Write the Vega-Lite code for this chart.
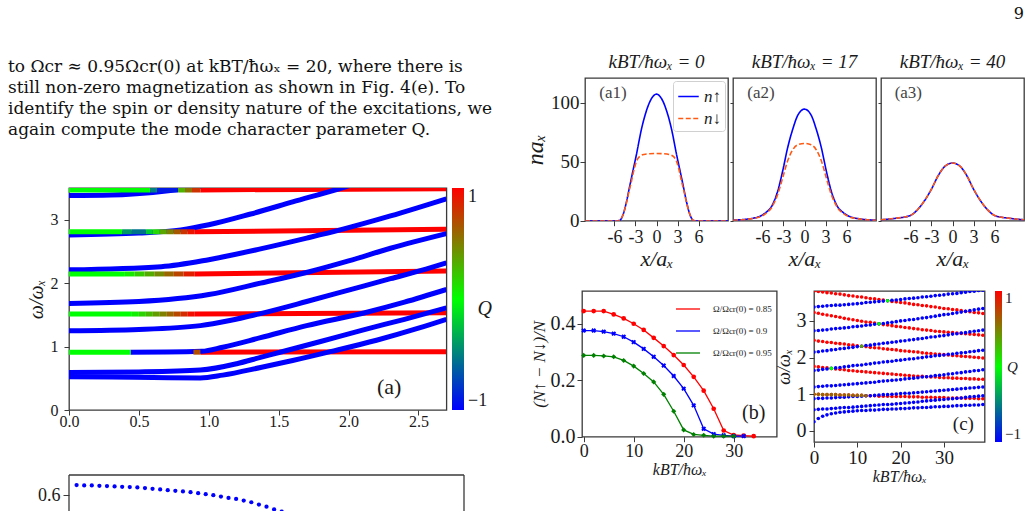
{
"$schema":"https://vega.github.io/schema/vega-lite/v6.json",
"background":"white",
"padding":0,
"config":{
"view":{"stroke":"#3a3a3a","strokeWidth":1.3},
"font":"Liberation Serif",
"axis":{"domain":false,"grid":false,"tickColor":"#3a3a3a","tickSize":5,"tickWidth":1,"labelColor":"#1a1a1a","titleColor":"#1a1a1a","labelFont":"Liberation Serif","titleFont":"Liberation Serif","titleFontWeight":"normal","labelPadding":3,"labelOverlap":false,"labelFlush":false},
"legend":{"labelFont":"Liberation Serif","titleFont":"Liberation Serif","titleFontWeight":"normal","labelColor":"#1a1a1a","titleColor":"#1a1a1a"},
"title":{"font":"Liberation Serif","fontWeight":"normal","color":"#1a1a1a"},
"text":{"font":"Liberation Serif","color":"#1a1a1a"}
},
"datasets":{
"lv":[
{"x":0,"x2":0.44,"y":0.912,"y2":0.912,"q":0},
{"x":0.89,"x2":0.94,"y":0.912,"y2":0.912,"q":0.7},
{"x":0.94,"x2":2.7,"y":0.912,"y2":0.92,"q":1},
{"x":0,"x2":0.45,"y":1.513,"y2":1.513,"q":0},
{"x":0.45,"x2":0.5,"y":1.513,"y2":1.513,"q":0.06},
{"x":0.5,"x2":0.55,"y":1.513,"y2":1.513,"q":0.17},
{"x":0.55,"x2":0.6,"y":1.513,"y2":1.513,"q":0.28},
{"x":0.6,"x2":0.65,"y":1.513,"y2":1.513,"q":0.39},
{"x":0.65,"x2":0.7,"y":1.513,"y2":1.513,"q":0.5},
{"x":0.7,"x2":0.75,"y":1.513,"y2":1.513,"q":0.61},
{"x":0.75,"x2":0.8,"y":1.513,"y2":1.513,"q":0.72},
{"x":0.8,"x2":0.85,"y":1.513,"y2":1.513,"q":0.83},
{"x":0.85,"x2":0.9,"y":1.513,"y2":1.513,"q":0.94},
{"x":0.9,"x2":2.7,"y":1.513,"y2":1.535,"q":1},
{"x":0,"x2":0.4,"y":2.145,"y2":2.145,"q":0},
{"x":0.4,"x2":0.47,"y":2.145,"y2":2.145,"q":0.08},
{"x":0.47,"x2":0.54,"y":2.145,"y2":2.145,"q":0.2},
{"x":0.54,"x2":0.61,"y":2.145,"y2":2.145,"q":0.33},
{"x":0.61,"x2":0.68,"y":2.145,"y2":2.145,"q":0.46},
{"x":0.68,"x2":0.75,"y":2.145,"y2":2.145,"q":0.6},
{"x":0.75,"x2":0.82,"y":2.145,"y2":2.145,"q":0.73},
{"x":0.82,"x2":0.9,"y":2.145,"y2":2.145,"q":0.88},
{"x":0.9,"x2":2.7,"y":2.145,"y2":2.19,"q":1},
{"x":0,"x2":0.38,"y":2.81,"y2":2.81,"q":0},
{"x":0.38,"x2":0.45,"y":2.81,"y2":2.81,"q":-0.4},
{"x":0.45,"x2":0.55,"y":2.81,"y2":2.81,"q":-0.55},
{"x":0.55,"x2":0.6,"y":2.81,"y2":2.81,"q":-0.2},
{"x":0.6,"x2":0.65,"y":2.81,"y2":2.81,"q":0.15},
{"x":0.65,"x2":0.7,"y":2.81,"y2":2.81,"q":0.35},
{"x":0.7,"x2":0.75,"y":2.81,"y2":2.81,"q":0.5},
{"x":0.75,"x2":0.8,"y":2.81,"y2":2.81,"q":0.65},
{"x":0.8,"x2":0.85,"y":2.81,"y2":2.81,"q":0.8},
{"x":0.85,"x2":0.9,"y":2.81,"y2":2.81,"q":0.92},
{"x":0.9,"x2":2.7,"y":2.81,"y2":2.85,"q":1},
{"x":0,"x2":0.58,"y":3.47,"y2":3.47,"q":0},
{"x":0.58,"x2":0.63,"y":3.47,"y2":3.47,"q":-0.5},
{"x":0.63,"x2":0.78,"y":3.47,"y2":3.47,"q":-0.9},
{"x":0.78,"x2":0.83,"y":3.47,"y2":3.47,"q":0.3},
{"x":0.83,"x2":0.88,"y":3.47,"y2":3.47,"q":0.55},
{"x":0.88,"x2":0.94,"y":3.47,"y2":3.47,"q":0.8},
{"x":0.94,"x2":2.7,"y":3.47,"y2":3.49,"q":1}
],
"cv":[
{"c":"A","x":0,"y":0.525},{"c":"A","x":0.3,"y":0.52},{"c":"A","x":0.6,"y":0.512},{"c":"A","x":0.94,"y":0.505},{"c":"A","x":1.1,"y":0.55},{"c":"A","x":1.37,"y":0.67},{"c":"A","x":1.6,"y":0.78},{"c":"A","x":1.87,"y":0.92},{"c":"A","x":2.2,"y":1.1},{"c":"A","x":2.5,"y":1.29},{"c":"A","x":2.7,"y":1.43},
{"c":"B","x":0,"y":0.59},{"c":"B","x":0.5,"y":0.6},{"c":"B","x":0.94,"y":0.63},{"c":"B","x":1.2,"y":0.73},{"c":"B","x":1.37,"y":0.83},{"c":"B","x":1.51,"y":0.91},{"c":"B","x":1.8,"y":1.08},{"c":"B","x":2.1,"y":1.26},{"c":"B","x":2.4,"y":1.43},{"c":"B","x":2.7,"y":1.61},
{"c":"C2","x":0.44,"y":0.912},{"c":"C2","x":0.7,"y":0.914},{"c":"C2","x":0.95,"y":0.925},{"c":"C2","x":1.1,"y":0.99},{"c":"C2","x":1.37,"y":1.14},{"c":"C2","x":1.7,"y":1.33},{"c":"C2","x":2.11,"y":1.53},{"c":"C2","x":2.4,"y":1.7},{"c":"C2","x":2.7,"y":1.9},
{"c":"C","x":0,"y":1.25},{"c":"C","x":0.5,"y":1.27},{"c":"C","x":0.94,"y":1.33},{"c":"C","x":1.15,"y":1.41},{"c":"C","x":1.37,"y":1.52},{"c":"C","x":1.7,"y":1.71},{"c":"C","x":2,"y":1.89},{"c":"C","x":2.3,"y":2.07},{"c":"C","x":2.52,"y":2.2},{"c":"C","x":2.7,"y":2.32},
{"c":"D","x":0,"y":1.68},{"c":"D","x":0.5,"y":1.71},{"c":"D","x":1,"y":1.82},{"c":"D","x":1.37,"y":2},{"c":"D","x":1.72,"y":2.18},{"c":"D","x":2,"y":2.35},{"c":"D","x":2.3,"y":2.55},{"c":"D","x":2.7,"y":2.78},
{"c":"E","x":0,"y":2.21},{"c":"E","x":0.66,"y":2.26},{"c":"E","x":1,"y":2.37},{"c":"E","x":1.37,"y":2.54},{"c":"E","x":1.7,"y":2.71},{"c":"E","x":1.94,"y":2.84},{"c":"E","x":2.3,"y":3.06},{"c":"E","x":2.7,"y":3.33},
{"c":"F","x":0,"y":2.76},{"c":"F","x":0.5,"y":2.79},{"c":"F","x":0.8,"y":2.84},{"c":"F","x":1,"y":2.92},{"c":"F","x":1.3,"y":3.09},{"c":"F","x":1.6,"y":3.28},{"c":"F","x":1.95,"y":3.5},{"c":"F","x":2.1,"y":3.6},
{"c":"G","x":0,"y":3.38},{"c":"G","x":0.3,"y":3.39},{"c":"G","x":0.6,"y":3.43},{"c":"G","x":0.85,"y":3.5},{"c":"G","x":1,"y":3.56}
],
"dens":[
{"p":"a1","s":"n↑","x":-10.2,"n":0},{"p":"a1","s":"n↑","x":-5.5,"n":0},{"p":"a1","s":"n↑","x":-5.2,"n":0.3},{"p":"a1","s":"n↑","x":-5,"n":2},{"p":"a1","s":"n↑","x":-4.75,"n":5.5},{"p":"a1","s":"n↑","x":-4.3,"n":15.5},{"p":"a1","s":"n↑","x":-3.9,"n":27},{"p":"a1","s":"n↑","x":-3.55,"n":37},{"p":"a1","s":"n↑","x":-2.85,"n":56.5},{"p":"a1","s":"n↑","x":-2.15,"n":77.5},{"p":"a1","s":"n↑","x":-1.45,"n":93},{"p":"a1","s":"n↑","x":-0.7,"n":103.7},{"p":"a1","s":"n↑","x":0,"n":107.3},{"p":"a1","s":"n↑","x":0.7,"n":103.7},{"p":"a1","s":"n↑","x":1.45,"n":93},{"p":"a1","s":"n↑","x":2.15,"n":77.5},{"p":"a1","s":"n↑","x":2.85,"n":56.5},{"p":"a1","s":"n↑","x":3.55,"n":37},{"p":"a1","s":"n↑","x":3.9,"n":27},{"p":"a1","s":"n↑","x":4.3,"n":15.5},{"p":"a1","s":"n↑","x":4.75,"n":5.5},{"p":"a1","s":"n↑","x":5,"n":2},{"p":"a1","s":"n↑","x":5.2,"n":0.3},{"p":"a1","s":"n↑","x":5.5,"n":0},{"p":"a1","s":"n↑","x":10.2,"n":0},
{"p":"a1","s":"n↓","x":-10.2,"n":0},{"p":"a1","s":"n↓","x":-5.5,"n":0},{"p":"a1","s":"n↓","x":-5.2,"n":0.3},{"p":"a1","s":"n↓","x":-5,"n":2},{"p":"a1","s":"n↓","x":-4.75,"n":5.5},{"p":"a1","s":"n↓","x":-4.3,"n":15},{"p":"a1","s":"n↓","x":-3.9,"n":25.5},{"p":"a1","s":"n↓","x":-3.55,"n":34},{"p":"a1","s":"n↓","x":-3.3,"n":41},{"p":"a1","s":"n↓","x":-2.85,"n":50.5},{"p":"a1","s":"n↓","x":-2.4,"n":54.5},{"p":"a1","s":"n↓","x":-1.8,"n":56.2},{"p":"a1","s":"n↓","x":-1,"n":56.8},{"p":"a1","s":"n↓","x":0,"n":57},{"p":"a1","s":"n↓","x":1,"n":56.8},{"p":"a1","s":"n↓","x":1.8,"n":56.2},{"p":"a1","s":"n↓","x":2.4,"n":54.5},{"p":"a1","s":"n↓","x":2.85,"n":50.5},{"p":"a1","s":"n↓","x":3.3,"n":41},{"p":"a1","s":"n↓","x":3.55,"n":34},{"p":"a1","s":"n↓","x":3.9,"n":25.5},{"p":"a1","s":"n↓","x":4.3,"n":15},{"p":"a1","s":"n↓","x":4.75,"n":5.5},{"p":"a1","s":"n↓","x":5,"n":2},{"p":"a1","s":"n↓","x":5.2,"n":0.3},{"p":"a1","s":"n↓","x":5.5,"n":0},{"p":"a1","s":"n↓","x":10.2,"n":0},
{"p":"a2","s":"n↑","x":-10.2,"n":0.5},{"p":"a2","s":"n↑","x":-8.1,"n":1.4},{"p":"a2","s":"n↑","x":-6.2,"n":4.2},{"p":"a2","s":"n↑","x":-5.5,"n":7},{"p":"a2","s":"n↑","x":-4.76,"n":11.5},{"p":"a2","s":"n↑","x":-4.3,"n":17},{"p":"a2","s":"n↑","x":-3.8,"n":25.5},{"p":"a2","s":"n↑","x":-3.1,"n":42.5},{"p":"a2","s":"n↑","x":-2.4,"n":62},{"p":"a2","s":"n↑","x":-1.67,"n":77.7},{"p":"a2","s":"n↑","x":-0.95,"n":89.5},{"p":"a2","s":"n↑","x":0,"n":94.6},{"p":"a2","s":"n↑","x":0.95,"n":89.5},{"p":"a2","s":"n↑","x":1.67,"n":77.7},{"p":"a2","s":"n↑","x":2.4,"n":62},{"p":"a2","s":"n↑","x":3.1,"n":42.5},{"p":"a2","s":"n↑","x":3.8,"n":25.5},{"p":"a2","s":"n↑","x":4.3,"n":17},{"p":"a2","s":"n↑","x":4.76,"n":11.5},{"p":"a2","s":"n↑","x":5.5,"n":7},{"p":"a2","s":"n↑","x":6.2,"n":4.2},{"p":"a2","s":"n↑","x":8.1,"n":1.4},{"p":"a2","s":"n↑","x":10.2,"n":0.5},
{"p":"a2","s":"n↓","x":-10.2,"n":0.4},{"p":"a2","s":"n↓","x":-8.1,"n":1.3},{"p":"a2","s":"n↓","x":-6.2,"n":3.7},{"p":"a2","s":"n↓","x":-5.5,"n":6.3},{"p":"a2","s":"n↓","x":-4.76,"n":10.5},{"p":"a2","s":"n↓","x":-4.3,"n":15.5},{"p":"a2","s":"n↓","x":-3.8,"n":22.6},{"p":"a2","s":"n↓","x":-3.1,"n":36.7},{"p":"a2","s":"n↓","x":-2.4,"n":50.8},{"p":"a2","s":"n↓","x":-1.67,"n":60.2},{"p":"a2","s":"n↓","x":-0.95,"n":64.4},{"p":"a2","s":"n↓","x":0,"n":65.5},{"p":"a2","s":"n↓","x":0.95,"n":64.4},{"p":"a2","s":"n↓","x":1.67,"n":60.2},{"p":"a2","s":"n↓","x":2.4,"n":50.8},{"p":"a2","s":"n↓","x":3.1,"n":36.7},{"p":"a2","s":"n↓","x":3.8,"n":22.6},{"p":"a2","s":"n↓","x":4.3,"n":15.5},{"p":"a2","s":"n↓","x":4.76,"n":10.5},{"p":"a2","s":"n↓","x":5.5,"n":6.3},{"p":"a2","s":"n↓","x":6.2,"n":3.7},{"p":"a2","s":"n↓","x":8.1,"n":1.3},{"p":"a2","s":"n↓","x":10.2,"n":0.4},
{"p":"a3","s":"n↑","x":-10.2,"n":0.8},{"p":"a3","s":"n↑","x":-8.2,"n":2},{"p":"a3","s":"n↑","x":-6.1,"n":4.2},{"p":"a3","s":"n↑","x":-4.9,"n":9.9},{"p":"a3","s":"n↑","x":-4,"n":16.9},{"p":"a3","s":"n↑","x":-3,"n":26.8},{"p":"a3","s":"n↑","x":-2.05,"n":38.1},{"p":"a3","s":"n↑","x":-1.1,"n":46},{"p":"a3","s":"n↑","x":0,"n":48.9},{"p":"a3","s":"n↑","x":1.1,"n":46},{"p":"a3","s":"n↑","x":2.05,"n":38.1},{"p":"a3","s":"n↑","x":3,"n":26.8},{"p":"a3","s":"n↑","x":4,"n":16.9},{"p":"a3","s":"n↑","x":4.9,"n":9.9},{"p":"a3","s":"n↑","x":6.1,"n":4.2},{"p":"a3","s":"n↑","x":8.2,"n":2},{"p":"a3","s":"n↑","x":10.2,"n":0.8},
{"p":"a3","s":"n↓","x":-10.2,"n":0.8},{"p":"a3","s":"n↓","x":-8.2,"n":2},{"p":"a3","s":"n↓","x":-6.1,"n":4.2},{"p":"a3","s":"n↓","x":-4.9,"n":9.9},{"p":"a3","s":"n↓","x":-4,"n":16.9},{"p":"a3","s":"n↓","x":-3,"n":26.8},{"p":"a3","s":"n↓","x":-2.05,"n":38.1},{"p":"a3","s":"n↓","x":-1.1,"n":46},{"p":"a3","s":"n↓","x":0,"n":48.9},{"p":"a3","s":"n↓","x":1.1,"n":46},{"p":"a3","s":"n↓","x":2.05,"n":38.1},{"p":"a3","s":"n↓","x":3,"n":26.8},{"p":"a3","s":"n↓","x":4,"n":16.9},{"p":"a3","s":"n↓","x":4.9,"n":9.9},{"p":"a3","s":"n↓","x":6.1,"n":4.2},{"p":"a3","s":"n↓","x":8.2,"n":2},{"p":"a3","s":"n↓","x":10.2,"n":0.8}
],
"nb":[
{"o":0.85,"t":0,"v":0.445},{"o":0.85,"t":2,"v":0.445},{"o":0.85,"t":4,"v":0.445},{"o":0.85,"t":6,"v":0.433},{"o":0.85,"t":8,"v":0.419},{"o":0.85,"t":10,"v":0.4},{"o":0.85,"t":12,"v":0.378},{"o":0.85,"t":14,"v":0.35},{"o":0.85,"t":16,"v":0.321},{"o":0.85,"t":18,"v":0.289},{"o":0.85,"t":20,"v":0.254},{"o":0.85,"t":22,"v":0.212},{"o":0.85,"t":24,"v":0.163},{"o":0.85,"t":26,"v":0.099},{"o":0.85,"t":28,"v":0.022},{"o":0.85,"t":30,"v":0.006},{"o":0.85,"t":32,"v":0.004},{"o":0.85,"t":34,"v":0.002},
{"o":0.9,"t":0,"v":0.376},{"o":0.9,"t":2,"v":0.376},{"o":0.9,"t":4,"v":0.372},{"o":0.9,"t":6,"v":0.365},{"o":0.9,"t":8,"v":0.354},{"o":0.9,"t":10,"v":0.335},{"o":0.9,"t":12,"v":0.311},{"o":0.9,"t":14,"v":0.283},{"o":0.9,"t":16,"v":0.252},{"o":0.9,"t":18,"v":0.215},{"o":0.9,"t":20,"v":0.17},{"o":0.9,"t":22,"v":0.111},{"o":0.9,"t":24,"v":0.028},{"o":0.9,"t":26,"v":0.009},{"o":0.9,"t":28,"v":0.005},{"o":0.9,"t":30,"v":0.002},{"o":0.9,"t":32,"v":0.002},
{"o":0.95,"t":0,"v":0.288},{"o":0.95,"t":2,"v":0.288},{"o":0.95,"t":4,"v":0.286},{"o":0.95,"t":6,"v":0.283},{"o":0.95,"t":8,"v":0.27},{"o":0.95,"t":10,"v":0.25},{"o":0.95,"t":12,"v":0.224},{"o":0.95,"t":14,"v":0.194},{"o":0.95,"t":16,"v":0.15},{"o":0.95,"t":18,"v":0.09},{"o":0.95,"t":20,"v":0.024},{"o":0.95,"t":22,"v":0.008},{"o":0.95,"t":24,"v":0.005},{"o":0.95,"t":26,"v":0.002},{"o":0.95,"t":28,"v":0.002},{"o":0.95,"t":30,"v":0.002}
],
"cw":[
{"t":0,"b1":0.25,"b2":0.58,"b3":0.88,"b4":1.2,"b5":1.65,"b6":2.15,"b7":2.73,"b8":3.38,"r1":1,"r2":1.76,"r3":2.47,"r4":3.23,"r5":3.82},
{"t":1,"b1":0.34,"b2":0.59,"b3":0.89,"b4":1.21,"b5":1.66,"b6":2.16,"b7":2.74,"b8":3.39,"r1":1,"r2":1.75,"r3":2.45,"r4":3.21,"r5":3.8},
{"t":2,"b1":0.4,"b2":0.6,"b3":0.89,"b4":1.22,"b5":1.68,"b6":2.18,"b7":2.75,"b8":3.4,"r1":0.99,"r2":1.73,"r3":2.44,"r4":3.18,"r5":3.79},
{"t":3,"b1":0.44,"b2":0.6,"b3":0.9,"b4":1.23,"b5":1.69,"b6":2.19,"b7":2.76,"b8":3.41,"r1":0.99,"r2":1.72,"r3":2.42,"r4":3.16,"r5":3.77},
{"t":4,"b1":0.47,"b2":0.61,"b3":0.9,"b4":1.23,"b5":1.71,"b6":2.21,"b7":2.78,"b8":3.42,"r1":0.99,"r2":1.7,"r3":2.41,"r4":3.14,"r5":3.76},
{"t":5,"b1":0.49,"b2":0.62,"b3":0.91,"b4":1.24,"b5":1.72,"b6":2.22,"b7":2.79,"b8":3.43,"r1":0.99,"r2":1.69,"r3":2.39,"r4":3.12,"r5":3.74},
{"t":6,"b1":0.51,"b2":0.63,"b3":0.92,"b4":1.25,"b5":1.73,"b6":2.24,"b7":2.8,"b8":3.43,"r1":0.98,"r2":1.68,"r3":2.38,"r4":3.1,"r5":3.73},
{"t":7,"b1":0.52,"b2":0.64,"b3":0.92,"b4":1.26,"b5":1.75,"b6":2.25,"b7":2.81,"b8":3.44,"r1":0.98,"r2":1.67,"r3":2.37,"r4":3.07,"r5":3.71},
{"t":8,"b1":0.53,"b2":0.64,"b3":0.93,"b4":1.27,"b5":1.76,"b6":2.27,"b7":2.82,"b8":3.45,"r1":0.98,"r2":1.65,"r3":2.35,"r4":3.05,"r5":3.69},
{"t":9,"b1":0.54,"b2":0.65,"b3":0.94,"b4":1.28,"b5":1.78,"b6":2.28,"b7":2.84,"b8":3.46,"r1":0.97,"r2":1.64,"r3":2.34,"r4":3.03,"r5":3.68},
{"t":10,"b1":0.55,"b2":0.66,"b3":0.94,"b4":1.29,"b5":1.79,"b6":2.3,"b7":2.85,"b8":3.47,"r1":0.97,"r2":1.63,"r3":2.32,"r4":3.01,"r5":3.66},
{"t":11,"b1":0.56,"b2":0.67,"b3":0.95,"b4":1.3,"b5":1.8,"b6":2.31,"b7":2.86,"b8":3.48,"r1":0.97,"r2":1.62,"r3":2.31,"r4":2.99,"r5":3.65},
{"t":12,"b1":0.56,"b2":0.68,"b3":0.96,"b4":1.31,"b5":1.82,"b6":2.33,"b7":2.88,"b8":3.5,"r1":0.96,"r2":1.61,"r3":2.3,"r4":2.97,"r5":3.63},
{"t":13,"b1":0.57,"b2":0.69,"b3":0.96,"b4":1.32,"b5":1.83,"b6":2.34,"b7":2.89,"b8":3.51,"r1":0.96,"r2":1.6,"r3":2.28,"r4":2.96,"r5":3.61},
{"t":14,"b1":0.57,"b2":0.7,"b3":0.97,"b4":1.33,"b5":1.85,"b6":2.36,"b7":2.91,"b8":3.52,"r1":0.96,"r2":1.59,"r3":2.27,"r4":2.94,"r5":3.6},
{"t":15,"b1":0.58,"b2":0.71,"b3":0.98,"b4":1.35,"b5":1.86,"b6":2.37,"b7":2.92,"b8":3.53,"r1":0.95,"r2":1.58,"r3":2.26,"r4":2.92,"r5":3.58},
{"t":16,"b1":0.59,"b2":0.72,"b3":0.99,"b4":1.36,"b5":1.88,"b6":2.39,"b7":2.93,"b8":3.54,"r1":0.95,"r2":1.57,"r3":2.24,"r4":2.9,"r5":3.57},
{"t":17,"b1":0.59,"b2":0.72,"b3":0.99,"b4":1.37,"b5":1.89,"b6":2.4,"b7":2.95,"b8":3.55,"r1":0.95,"r2":1.56,"r3":2.23,"r4":2.89,"r5":3.55},
{"t":18,"b1":0.6,"b2":0.73,"b3":1,"b4":1.38,"b5":1.9,"b6":2.42,"b7":2.96,"b8":3.56,"r1":0.94,"r2":1.55,"r3":2.22,"r4":2.87,"r5":3.53},
{"t":19,"b1":0.6,"b2":0.74,"b3":1.01,"b4":1.39,"b5":1.92,"b6":2.43,"b7":2.98,"b8":3.57,"r1":0.94,"r2":1.54,"r3":2.21,"r4":2.85,"r5":3.52},
{"t":20,"b1":0.61,"b2":0.75,"b3":1.02,"b4":1.4,"b5":1.93,"b6":2.45,"b7":3,"b8":3.58,"r1":0.94,"r2":1.53,"r3":2.19,"r4":2.84,"r5":3.5},
{"t":21,"b1":0.61,"b2":0.76,"b3":1.03,"b4":1.42,"b5":1.95,"b6":2.46,"b7":3.01,"b8":3.6,"r1":0.94,"r2":1.52,"r3":2.18,"r4":2.82,"r5":3.49},
{"t":22,"b1":0.62,"b2":0.77,"b3":1.03,"b4":1.43,"b5":1.96,"b6":2.48,"b7":3.03,"b8":3.61,"r1":0.93,"r2":1.51,"r3":2.17,"r4":2.81,"r5":3.47},
{"t":23,"b1":0.63,"b2":0.78,"b3":1.04,"b4":1.44,"b5":1.97,"b6":2.49,"b7":3.04,"b8":3.62,"r1":0.93,"r2":1.5,"r3":2.16,"r4":2.79,"r5":3.45},
{"t":24,"b1":0.63,"b2":0.79,"b3":1.05,"b4":1.45,"b5":1.99,"b6":2.51,"b7":3.06,"b8":3.63,"r1":0.93,"r2":1.49,"r3":2.15,"r4":2.78,"r5":3.44},
{"t":25,"b1":0.64,"b2":0.81,"b3":1.06,"b4":1.47,"b5":2,"b6":2.52,"b7":3.08,"b8":3.65,"r1":0.92,"r2":1.49,"r3":2.13,"r4":2.76,"r5":3.42},
{"t":26,"b1":0.64,"b2":0.82,"b3":1.07,"b4":1.48,"b5":2.02,"b6":2.54,"b7":3.09,"b8":3.66,"r1":0.92,"r2":1.48,"r3":2.12,"r4":2.75,"r5":3.41},
{"t":27,"b1":0.65,"b2":0.83,"b3":1.08,"b4":1.49,"b5":2.03,"b6":2.56,"b7":3.11,"b8":3.67,"r1":0.92,"r2":1.47,"r3":2.11,"r4":2.74,"r5":3.39},
{"t":28,"b1":0.66,"b2":0.84,"b3":1.09,"b4":1.51,"b5":2.05,"b6":2.57,"b7":3.13,"b8":3.69,"r1":0.91,"r2":1.47,"r3":2.1,"r4":2.72,"r5":3.38},
{"t":29,"b1":0.66,"b2":0.85,"b3":1.1,"b4":1.52,"b5":2.06,"b6":2.59,"b7":3.15,"b8":3.7,"r1":0.91,"r2":1.46,"r3":2.09,"r4":2.71,"r5":3.36},
{"t":30,"b1":0.67,"b2":0.86,"b3":1.11,"b4":1.53,"b5":2.07,"b6":2.6,"b7":3.17,"b8":3.71,"r1":0.91,"r2":1.45,"r3":2.08,"r4":2.7,"r5":3.34},
{"t":31,"b1":0.67,"b2":0.87,"b3":1.12,"b4":1.55,"b5":2.09,"b6":2.62,"b7":3.18,"b8":3.73,"r1":0.9,"r2":1.45,"r3":2.07,"r4":2.69,"r5":3.33},
{"t":32,"b1":0.68,"b2":0.88,"b3":1.13,"b4":1.56,"b5":2.1,"b6":2.64,"b7":3.2,"b8":3.74,"r1":0.9,"r2":1.44,"r3":2.06,"r4":2.68,"r5":3.31},
{"t":33,"b1":0.69,"b2":0.89,"b3":1.14,"b4":1.58,"b5":2.12,"b6":2.65,"b7":3.22,"b8":3.75,"r1":0.9,"r2":1.44,"r3":2.05,"r4":2.67,"r5":3.3},
{"t":34,"b1":0.69,"b2":0.9,"b3":1.15,"b4":1.59,"b5":2.13,"b6":2.67,"b7":3.24,"b8":3.77,"r1":0.9,"r2":1.43,"r3":2.04,"r4":2.66,"r5":3.28},
{"t":35,"b1":0.7,"b2":0.92,"b3":1.16,"b4":1.61,"b5":2.14,"b6":2.68,"b7":3.26,"b8":3.78,"r1":0.89,"r2":1.43,"r3":2.03,"r4":2.65,"r5":3.26},
{"t":36,"b1":0.7,"b2":0.93,"b3":1.17,"b4":1.62,"b5":2.16,"b6":2.7,"b7":3.28,"b8":3.8,"r1":0.89,"r2":1.42,"r3":2.02,"r4":2.64,"r5":3.25},
{"t":37,"b1":0.71,"b2":0.94,"b3":1.18,"b4":1.64,"b5":2.17,"b6":2.72,"b7":3.3,"b8":3.81,"r1":0.89,"r2":1.42,"r3":2.01,"r4":2.63,"r5":3.23},
{"t":38,"b1":0.71,"b2":0.95,"b3":1.19,"b4":1.65,"b5":2.19,"b6":2.73,"b7":3.32,"b8":3.83,"r1":0.88,"r2":1.41,"r3":2,"r4":2.62,"r5":3.22},
{"t":39,"b1":0.72,"b2":0.96,"b3":1.2,"b4":1.67,"b5":2.2,"b6":2.75,"b7":3.34,"b8":3.84,"r1":0.88,"r2":1.41,"r3":1.99,"r4":2.61,"r5":3.2}
]
},
"spacing":0,
"resolve":{"scale":{"color":"independent","strokeDash":"independent","shape":"independent"},"legend":{"color":"independent","strokeDash":"independent","shape":"independent"}},
"hconcat":[
{"columns":4,"spacing":0,"bounds":"flush",
 "resolve":{"scale":{"color":"independent","strokeDash":"independent","shape":"independent"},"legend":{"color":"independent","strokeDash":"independent","shape":"independent"}},
 "concat":[
{"width":8,"height":187.3,"view":{"stroke":null},"data":{"values":[]},"mark":"point"},
{"width":60.3,"height":187.3,"view":{"stroke":null},
 "data":{"values":[
  {"c":0,"line":1,"t":"to Ωcr ≈ 0.95Ωcr(0) at kBT/ħωₓ = 20, where there is"},
  {"c":0,"line":2,"t":"still non-zero magnetization as shown in Fig. 4(e).  To"},
  {"c":0,"line":3,"t":"identify the spin or density nature of the excitations, we"},
  {"c":0,"line":4,"t":"again compute the mode character parameter Q."}]},
 "mark":{"type":"text","align":"left","baseline":"middle","font":"DejaVu Serif","fontSize":17,"color":"#111"},
 "encoding":{"x":{"field":"c","type":"quantitative","scale":{"domain":[0,1],"nice":false},"axis":null},"y":{"field":"line","type":"quantitative","scale":{"domain":[-2.19,6.73],"nice":false,"zero":false,"reverse":true},"axis":null},"text":{"field":"t"}}},
{"width":395,"height":0.01,"view":{"stroke":null},"data":{"values":[]},"mark":"point"},
{"width":46.7,"height":0.01,"view":{"stroke":null},"data":{"values":[]},"mark":"point"},

{"width":8,"height":0.01,"view":{"stroke":null},"data":{"values":[]},"mark":"point"},
{"width":60.3,"height":0.01,"view":{"stroke":null},"data":{"values":[]},"mark":"point"},
{"width":377.4,"height":222,
 "layer":[
  {"data":{"name":"lv"},"transform":[{"filter":"datum.q == 1"}],
   "mark":{"type":"rule","strokeWidth":5,"clip":true},
   "encoding":{
    "x":{"field":"x","type":"quantitative","scale":{"domain":[0,2.7],"nice":false,"zero":false},"axis":{"values":[0,0.5,1,1.5,2,2.5],"tickCount":12,"format":".1f","labelFontSize":16,"title":null,"tickSize":5,"labelPadding":-2,"labelOverlap":false}},
    "x2":{"field":"x2"},
    "y":{"field":"y","type":"quantitative","scale":{"domain":[0,3.5],"nice":false},"axis":{"values":[0,1,2,3],"tickCount":8,"format":"d","labelFontSize":16,"title":"ω/ωₓ","titleFontSize":20,"titleFontStyle":"italic","tickSize":5,"labelPadding":6,"titlePadding":4,"labelOverlap":false}},
    "y2":{"field":"y2"},
    "color":{"field":"q","type":"quantitative","scale":{"domain":[-1,1],"range":["#0000ff","#00ff00","#ff0000"],"interpolate":"rgb"},
      "legend":{"title":null,"orient":"right","offset":5,"gradientLength":222,"gradientThickness":12,"values":[-1,1],"format":"d","labelFontSize":18,"labelBaseline":"middle","padding":0,"labelOffset":4,"gradientStrokeWidth":0}}
   }},
  {"data":{"name":"cv"},"mark":{"type":"line","strokeWidth":5,"interpolate":"monotone","clip":true},
   "encoding":{"x":{"field":"x","type":"quantitative"},"y":{"field":"y","type":"quantitative"},"detail":{"field":"c"},"color":{"datum":-1,"type":"quantitative"}}},
  {"data":{"name":"lv"},"transform":[{"filter":"datum.q < 1"}],
   "mark":{"type":"rule","strokeWidth":5,"clip":true},
   "encoding":{"x":{"field":"x","type":"quantitative"},"x2":{"field":"x2"},"y":{"field":"y","type":"quantitative"},"y2":{"field":"y2"},"color":{"field":"q","type":"quantitative"}}},
  {"data":{"values":[{"x":2.29,"y":0.37,"t":"(a)"}]},"mark":{"type":"text","fontSize":22},"encoding":{"x":{"field":"x","type":"quantitative"},"y":{"field":"y","type":"quantitative"},"text":{"field":"t"}}},
  {"data":{"values":[{"x":2.975,"y":1.6,"t":"Q"}]},"mark":{"type":"text","fontSize":20,"fontStyle":"italic"},"encoding":{"x":{"field":"x","type":"quantitative"},"y":{"field":"y","type":"quantitative"},"text":{"field":"t"}}}
 ]},
{"width":0.01,"height":0.01,"view":{"stroke":null},"data":{"values":[]},"mark":"point"},

{"width":0.01,"height":0.01,"view":{"stroke":null},"data":{"values":[]},"mark":"point"},
{"width":0.01,"height":0.01,"view":{"stroke":null},"data":{"values":[]},"mark":"point"},
{"width":0.01,"height":64.7,"view":{"stroke":null},"data":{"values":[]},"mark":"point"},
{"width":0.01,"height":0.01,"view":{"stroke":null},"data":{"values":[]},"mark":"point"},

{"width":0.01,"height":0.01,"view":{"stroke":null},"data":{"values":[]},"mark":"point"},
{"width":0.01,"height":0.01,"view":{"stroke":null},"data":{"values":[]},"mark":"point"},
{"width":395,"height":36,"view":{"stroke":null},
 "layer":[
  {"data":{"values":[{"x":0.05,"m":0.63},{"x":0.1,"m":0.629},{"x":0.15,"m":0.629},{"x":0.2,"m":0.628},{"x":0.25,"m":0.627},{"x":0.3,"m":0.626},{"x":0.35,"m":0.625},{"x":0.4,"m":0.624},{"x":0.45,"m":0.623},{"x":0.5,"m":0.621},{"x":0.55,"m":0.619},{"x":0.6,"m":0.617},{"x":0.65,"m":0.615},{"x":0.7,"m":0.613},{"x":0.75,"m":0.611},{"x":0.8,"m":0.609},{"x":0.85,"m":0.606},{"x":0.9,"m":0.603},{"x":0.95,"m":0.6},{"x":1,"m":0.596},{"x":1.05,"m":0.592},{"x":1.1,"m":0.589},{"x":1.15,"m":0.584},{"x":1.2,"m":0.579},{"x":1.25,"m":0.572},{"x":1.3,"m":0.566},{"x":1.35,"m":0.558},{"x":1.4,"m":0.551},{"x":1.45,"m":0.543},{"x":1.5,"m":0.534}]},
   "mark":{"type":"circle","size":18,"color":"#0000ff","opacity":1,"clip":true},
   "encoding":{"x":{"field":"x","type":"quantitative","scale":{"domain":[0,2.6],"nice":false,"zero":false},"axis":null},"y":{"field":"m","type":"quantitative","scale":{"domain":[0.553,0.66],"nice":false,"zero":false},"axis":{"values":[0.6],"format":".1f","labelFontSize":18,"title":null,"tickSize":6,"labelPadding":3}}}},
  {"data":{"values":[{}]},"mark":{"type":"rule","color":"#3a3a3a","strokeWidth":1.3},"encoding":{"y":{"datum":0.66}}},
  {"data":{"values":[{}]},"mark":{"type":"rule","color":"#3a3a3a","strokeWidth":1.3},"encoding":{"x":{"datum":0}}},
  {"data":{"values":[{}]},"mark":{"type":"rule","color":"#3a3a3a","strokeWidth":1.3},"encoding":{"x":{"datum":2.6}}}
 ]},
{"width":0.01,"height":0.01,"view":{"stroke":null},"data":{"values":[]},"mark":"point"}
]},
{"spacing":0,
 "resolve":{"scale":{"color":"independent","strokeDash":"independent","shape":"independent"},"legend":{"color":"independent","strokeDash":"independent","shape":"independent"}},
 "vconcat":[
{"columns":6,"spacing":0,"bounds":"flush",
 "resolve":{"scale":{"color":"independent","strokeDash":"independent","shape":"independent"},"legend":{"color":"independent","strokeDash":"independent","shape":"independent"}},
 "concat":[
{"width":73.3,"height":77.3,"view":{"stroke":null},"data":{"values":[]},"mark":"point"},
{"width":143,"height":0.01,"view":{"stroke":null},"data":{"values":[]},"mark":"point"},
{"width":4.7,"height":0.01,"view":{"stroke":null},"data":{"values":[]},"mark":"point"},
{"width":143,"height":0.01,"view":{"stroke":null},"data":{"values":[]},"mark":"point"},
{"width":4.7,"height":0.01,"view":{"stroke":null},"data":{"values":[]},"mark":"point"},
{"width":143,"height":77.3,"view":{"stroke":null},"data":{"values":[{"t":"9","c":1,"r":0.18}]},"mark":{"type":"text","align":"right","baseline":"middle","font":"DejaVu Serif","fontSize":16,"color":"#111"},"encoding":{"x":{"field":"c","type":"quantitative","scale":{"domain":[0,1],"nice":false},"axis":null},"y":{"field":"r","type":"quantitative","scale":{"domain":[0,1],"nice":false,"reverse":true},"axis":null},"text":{"field":"t"}}},

{"width":0.01,"height":0.01,"view":{"stroke":null},"data":{"values":[]},"mark":"point"},
{"width":143,"height":142.7,
 "title":{"text":"kBT/ħωₓ = 0","fontSize":19,"fontStyle":"italic","offset":6},
 "layer":[
  {"data":{"name":"dens"},"transform":[{"filter":"datum.p == 'a1'"}],
   "mark":{"type":"line","strokeWidth":1.6,"interpolate":"monotone","clip":true},
   "encoding":{
    "x":{"field":"x","type":"quantitative","scale":{"domain":[-10.2,10.2],"nice":false,"zero":false},"axis":{"values":[-6,-3,0,3,6],"tickCount":12,"labelExpr":"'' + datum.value","labelFontSize":18,"title":"x/aₓ","titleFontSize":22,"titleFontStyle":"italic","tickSize":5,"labelPadding":3,"titlePadding":2,"labelOverlap":false}},
    "y":{"field":"n","type":"quantitative","scale":{"domain":[0,121],"nice":false},"axis":{"values":[0,50,100],"tickCount":8,"labelFontSize":19,"title":"naₓ","titleFontSize":24,"titleFontStyle":"italic","tickSize":5,"labelPadding":1,"titlePadding":3,"labelOverlap":false}},
    "color":{"field":"s","type":"nominal","scale":{"domain":["n↑","n↓"],"range":["#0000ff","#ff5a14"]},"legend":{"title":null,"orient":"top-right","offset":3,"symbolType":"stroke","symbolSize":420,"symbolStrokeWidth":1.6,"labelFontSize":17,"labelFontStyle":"italic","padding":4,"rowPadding":2,"strokeColor":"#d0d0d0","fillColor":"white","cornerRadius":3,"labelOffset":4,"encode":{"symbols":{"update":{"strokeDash":{"signal":"datum.value === 'n↓' ? [5, 2.5] : [1, 0]"}}}}}},
    "strokeDash":{"field":"s","type":"nominal","scale":{"domain":["n↑","n↓"],"range":[[1,0],[5,2.5]]},"legend":null}
   }},
  {"data":{"values":[{"x":-6.2,"y":108.7,"t":"(a1)"}]},"mark":{"type":"text","fontSize":17,"color":"#444"},"encoding":{"x":{"field":"x","type":"quantitative"},"y":{"field":"y","type":"quantitative"},"text":{"field":"t"}}}
 ]},
{"width":0.01,"height":0.01,"view":{"stroke":null},"data":{"values":[]},"mark":"point"},
{"width":143,"height":142.7,
 "title":{"text":"kBT/ħωₓ = 17","fontSize":19,"fontStyle":"italic","offset":6},
 "layer":[
  {"data":{"name":"dens"},"transform":[{"filter":"datum.p == 'a2'"}],
   "mark":{"type":"line","strokeWidth":1.6,"interpolate":"monotone","clip":true},
   "encoding":{
    "x":{"field":"x","type":"quantitative","scale":{"domain":[-10.2,10.2],"nice":false,"zero":false},"axis":{"values":[-6,-3,0,3,6],"tickCount":12,"labelExpr":"'' + datum.value","labelFontSize":18,"title":"x/aₓ","titleFontSize":22,"titleFontStyle":"italic","tickSize":5,"labelPadding":3,"titlePadding":2,"labelOverlap":false}},
    "y":{"field":"n","type":"quantitative","scale":{"domain":[0,121],"nice":false},"axis":{"values":[0,50,100],"tickCount":8,"labels":false,"title":null,"tickSize":3}},
    "color":{"field":"s","type":"nominal","scale":{"domain":["n↑","n↓"],"range":["#0000ff","#ff5a14"]},"legend":null},
    "strokeDash":{"field":"s","type":"nominal","scale":{"domain":["n↑","n↓"],"range":[[1,0],[5,2.5]]},"legend":null}
   }},
  {"data":{"values":[{"x":-6.2,"y":108.7,"t":"(a2)"}]},"mark":{"type":"text","fontSize":17,"color":"#444"},"encoding":{"x":{"field":"x","type":"quantitative"},"y":{"field":"y","type":"quantitative"},"text":{"field":"t"}}}
 ]},
{"width":0.01,"height":0.01,"view":{"stroke":null},"data":{"values":[]},"mark":"point"},
{"width":143,"height":142.7,
 "title":{"text":"kBT/ħωₓ = 40","fontSize":19,"fontStyle":"italic","offset":6},
 "layer":[
  {"data":{"name":"dens"},"transform":[{"filter":"datum.p == 'a3'"}],
   "mark":{"type":"line","strokeWidth":1.6,"interpolate":"monotone","clip":true},
   "encoding":{
    "x":{"field":"x","type":"quantitative","scale":{"domain":[-10.2,10.2],"nice":false,"zero":false},"axis":{"values":[-6,-3,0,3,6],"tickCount":12,"labelExpr":"'' + datum.value","labelFontSize":18,"title":"x/aₓ","titleFontSize":22,"titleFontStyle":"italic","tickSize":5,"labelPadding":3,"titlePadding":2,"labelOverlap":false}},
    "y":{"field":"n","type":"quantitative","scale":{"domain":[0,121],"nice":false},"axis":{"values":[0,50,100],"tickCount":8,"labels":false,"title":null,"tickSize":3}},
    "color":{"field":"s","type":"nominal","scale":{"domain":["n↑","n↓"],"range":["#0000ff","#ff5a14"]},"legend":null},
    "strokeDash":{"field":"s","type":"nominal","scale":{"domain":["n↑","n↓"],"range":[[1,0],[5,2.5]]},"legend":null}
   }},
  {"data":{"values":[{"x":-6.3,"y":108.7,"t":"(a3)"}]},"mark":{"type":"text","fontSize":17,"color":"#444"},"encoding":{"x":{"field":"x","type":"quantitative"},"y":{"field":"y","type":"quantitative"},"text":{"field":"t"}}}
 ]},

{"width":0.01,"height":65,"view":{"stroke":null},"data":{"values":[]},"mark":"point"},
{"width":0.01,"height":0.01,"view":{"stroke":null},"data":{"values":[]},"mark":"point"},
{"width":0.01,"height":0.01,"view":{"stroke":null},"data":{"values":[]},"mark":"point"},
{"width":0.01,"height":0.01,"view":{"stroke":null},"data":{"values":[]},"mark":"point"},
{"width":0.01,"height":0.01,"view":{"stroke":null},"data":{"values":[]},"mark":"point"},
{"width":0.01,"height":0.01,"view":{"stroke":null},"data":{"values":[]},"mark":"point"}
]},
{"columns":4,"spacing":0,"bounds":"flush",
 "resolve":{"scale":{"color":"independent","strokeDash":"independent","shape":"independent"},"legend":{"color":"independent","strokeDash":"independent","shape":"independent"}},
 "concat":[
{"width":71,"height":5,"view":{"stroke":null},"data":{"values":[]},"mark":"point"},
{"width":194.7,"height":0.01,"view":{"stroke":null},"data":{"values":[]},"mark":"point"},
{"width":37,"height":0.01,"view":{"stroke":null},"data":{"values":[]},"mark":"point"},
{"width":170.6,"height":0.01,"view":{"stroke":null},"data":{"values":[]},"mark":"point"},

{"width":0.01,"height":0.01,"view":{"stroke":null},"data":{"values":[]},"mark":"point"},
{"width":194.7,"height":145.7,
 "layer":[
  {"data":{"name":"nb"},"mark":{"type":"line","strokeWidth":1.3},
   "encoding":{
    "x":{"field":"t","type":"quantitative","scale":{"domain":[-0.34,38.6],"nice":false,"zero":false},"axis":{"values":[0,10,20,30],"tickCount":10,"labelFontSize":18,"title":"kBT/ħωₓ","titleFontSize":16,"titleFontStyle":"italic","tickSize":5,"labelPadding":1,"titlePadding":1,"labelOverlap":false}},
    "y":{"field":"v","type":"quantitative","scale":{"domain":[0,0.516],"nice":false},"axis":{"values":[0,0.2,0.4],"tickCount":8,"format":".1f","labelFontSize":20,"title":"(N↑ − N↓)/N","titleFontSize":17,"titleFontStyle":"italic","tickSize":5,"labelPadding":2,"titlePadding":2,"labelOverlap":false}},
    "color":{"field":"o","type":"nominal","scale":{"domain":[0.85,0.9,0.95],"range":["#ff0000","#0000ff","#008000"]},"legend":{"title":null,"orient":"top-right","offset":3,"symbolType":"stroke","symbolSize":576,"symbolStrokeWidth":1.3,"labelFontSize":9,"labelExpr":"'Ω/Ωcr(0) = ' + datum.label","rowPadding":4,"padding":2,"labelOffset":12}}
   }},
  {"data":{"name":"nb"},"transform":[{"filter":"datum.o == 0.85"}],"mark":{"type":"point","shape":"circle","filled":true,"color":"#ff0000","opacity":1,"size":22},
   "encoding":{"x":{"field":"t","type":"quantitative"},"y":{"field":"v","type":"quantitative"}}},
  {"data":{"name":"nb"},"transform":[{"filter":"datum.o == 0.9"}],"mark":{"type":"point","shape":"cross","angle":45,"filled":true,"color":"#0000ff","opacity":1,"size":24},
   "encoding":{"x":{"field":"t","type":"quantitative"},"y":{"field":"v","type":"quantitative"}}},
  {"data":{"name":"nb"},"transform":[{"filter":"datum.o == 0.95"}],"mark":{"type":"point","shape":"square","angle":45,"filled":true,"color":"#008000","opacity":1,"size":13},
   "encoding":{"x":{"field":"t","type":"quantitative"},"y":{"field":"v","type":"quantitative"}}},
  {"data":{"values":[{"t":34,"v":0.085,"s":"(b)"}]},"mark":{"type":"text","fontSize":20},"encoding":{"x":{"field":"t","type":"quantitative"},"y":{"field":"v","type":"quantitative"},"text":{"field":"s"}}}
 ]},
{"width":0.01,"height":0.01,"view":{"stroke":null},"data":{"values":[]},"mark":"point"},
{"width":170.6,"height":151,
 "layer":[
  {"data":{"name":"cw"},
   "transform":[{"fold":["r1","r2","r3","r4","r5","b1","b2","b3","b4","b5","b6","b7","b8"],"as":["k","w"]},
    {"lookup":"k","from":{"data":{"values":[{"k":"r1","q":1},{"k":"r2","q":1},{"k":"r3","q":1},{"k":"r4","q":1},{"k":"r5","q":1},{"k":"b1","q":-1},{"k":"b2","q":-1},{"k":"b3","q":-1},{"k":"b4","q":-1},{"k":"b5","q":-1},{"k":"b6","q":-1},{"k":"b7","q":-1},{"k":"b8","q":-1}]},"key":"k","fields":["q"]}}],
   "mark":{"type":"circle","size":13,"opacity":1,"clip":true},
   "encoding":{
    "x":{"field":"t","type":"quantitative","scale":{"domain":[0,39.4],"nice":false,"zero":false},"axis":{"values":[0,10,20,30],"tickCount":10,"labelFontSize":19,"title":"kBT/ħωₓ","titleFontSize":16,"titleFontStyle":"italic","tickSize":5,"labelPadding":1,"titlePadding":1,"labelOverlap":false}},
    "y":{"field":"w","type":"quantitative","scale":{"domain":[-0.3,3.815],"nice":false,"zero":false},"axis":{"values":[0,1,2,3],"tickCount":8,"format":"d","labelFontSize":20,"title":"ω/ωₓ","titleFontSize":18,"titleFontStyle":"italic","tickSize":5,"labelPadding":3,"titlePadding":3,"labelOverlap":false}},
    "color":{"field":"q","type":"quantitative","scale":{"domain":[-1,1],"range":["#0000ff","#00ff00","#ff0000"],"interpolate":"rgb"},
      "legend":{"title":null,"orient":"right","offset":10,"gradientLength":151,"gradientThickness":7,"values":[-1,1],"format":"d","labelFontSize":15,"labelBaseline":"middle","padding":0,"labelOffset":3,"gradientStrokeWidth":0}}
   }},
  {"data":{"values":[{"t":0,"w":1,"q":0.6},{"t":1,"w":1,"q":0.6},{"t":2,"w":0.99,"q":0.6},{"t":3,"w":0.99,"q":0.6},{"t":4,"w":0.99,"q":0.6},{"t":5,"w":0.99,"q":0.6},{"t":6,"w":0.98,"q":0.6},{"t":7,"w":0.98,"q":0.6},{"t":8,"w":0.98,"q":0.6},{"t":9,"w":0.97,"q":0.6},{"t":10,"w":0.97,"q":0.6},{"t":11,"w":0.97,"q":0.6},{"t":12,"w":0.96,"q":0.6},{"t":4,"w":1.705,"q":0},{"t":11,"w":2.31,"q":0.35},{"t":15,"w":2.92,"q":0},{"t":17,"w":3.55,"q":0}]},
   "mark":{"type":"circle","size":13,"opacity":1,"clip":true},
   "encoding":{"x":{"field":"t","type":"quantitative"},"y":{"field":"w","type":"quantitative"},"color":{"field":"q","type":"quantitative"}}},
  {"data":{"values":[{"t":34.5,"w":0.2,"s":"(c)"}]},"mark":{"type":"text","fontSize":19},"encoding":{"x":{"field":"t","type":"quantitative"},"y":{"field":"w","type":"quantitative"},"text":{"field":"s"}}},
  {"data":{"values":[{"t":45.8,"w":1.74,"s":"Q"}]},"mark":{"type":"text","fontSize":15,"fontStyle":"italic"},"encoding":{"x":{"field":"t","type":"quantitative"},"y":{"field":"w","type":"quantitative"},"text":{"field":"s"}}}
 ]}
]}
]}
]
}
